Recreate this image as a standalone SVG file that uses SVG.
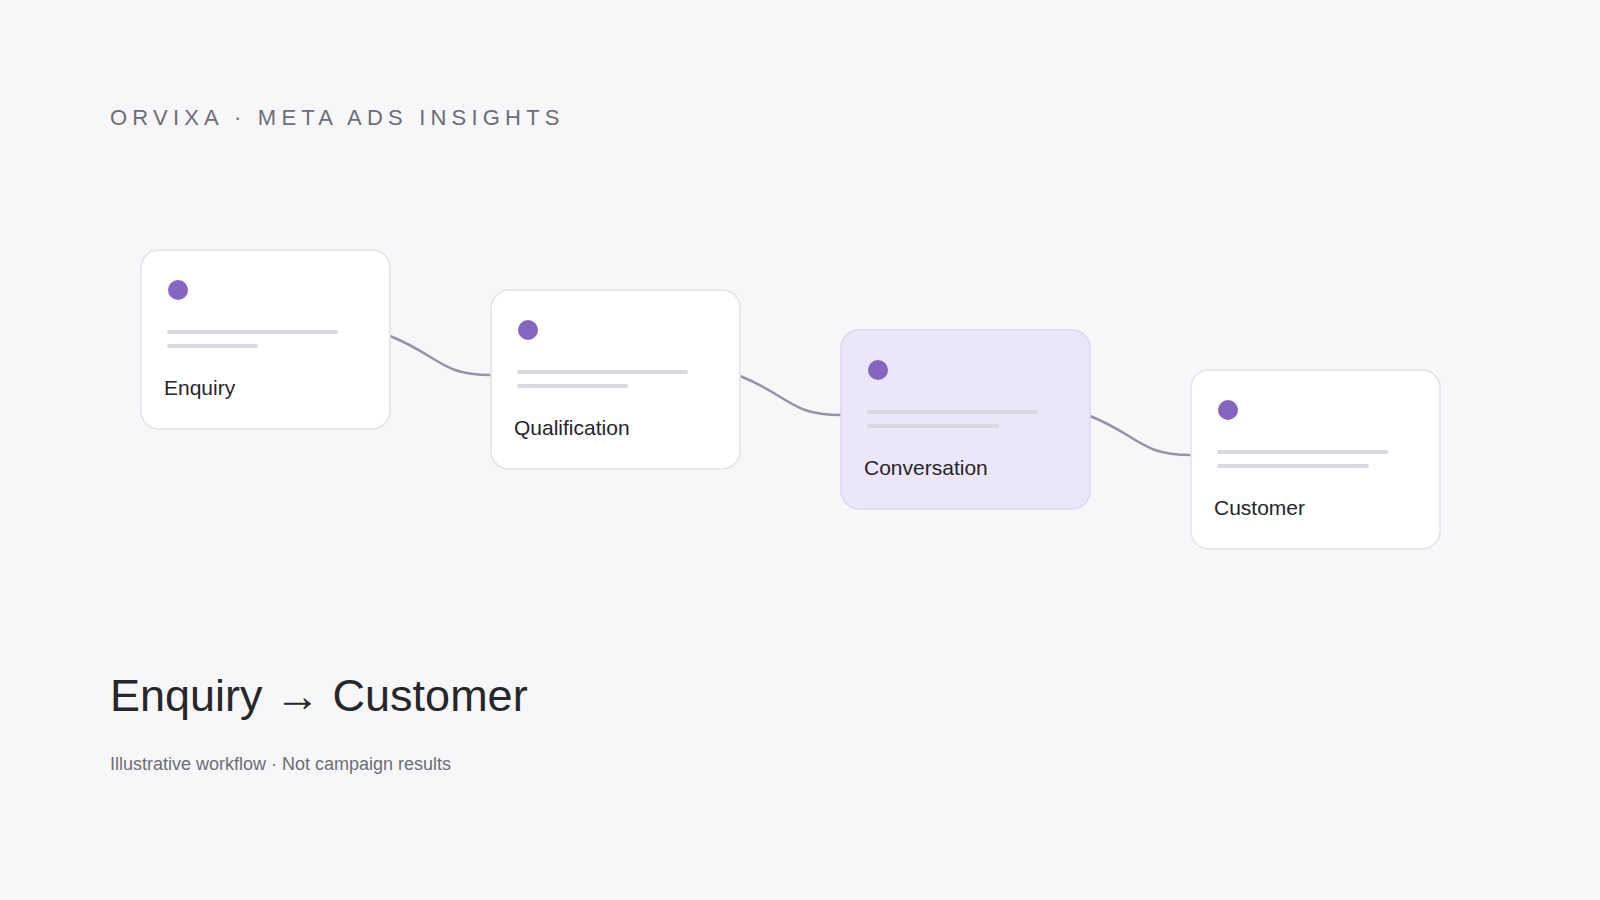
<svg xmlns="http://www.w3.org/2000/svg" width="1600" height="900" viewBox="0 0 1600 900">
<style>
.box{fill:#fff;stroke:#e3e2e9;stroke-width:1.5}
.hl{fill:#ece7f8;stroke:#ddd6f0}
.dot{fill:#8565c2}
.ln{stroke:#d9d7e1;stroke-width:4;stroke-linecap:round}
.lbl{font-family:"Liberation Sans",Arial,sans-serif;font-size:21px;fill:#26262b}
.con{fill:none;stroke:#9a91a9;stroke-width:2.5}
</style>
<rect width="1600" height="900" fill="#f7f7f9"/>
<text x="110" y="125" font-family="Liberation Sans,Arial,sans-serif" font-size="22" letter-spacing="5.2" fill="#6d6c78">ORVIXA · META ADS INSIGHTS</text>
<g id="connectors">
<path class="con" d="M390 336 C440 356 440 375 491 375"/>
<path class="con" d="M740 376 C790 396 790 415 841 415"/>
<path class="con" d="M1090 416 C1140 436 1140 455 1191 455"/>
</g>
<g id="n1"><rect class="box" x="141" y="250" width="249" height="179" rx="18"/><circle class="dot" cx="178" cy="290" r="10"/><line class="ln" x1="169" y1="332" x2="336" y2="332"/><line class="ln" x1="169" y1="346" x2="256" y2="346"/><text class="lbl" x="164" y="395">Enquiry</text></g>
<g id="n2"><rect class="box" x="491" y="290" width="249" height="179" rx="18"/><circle class="dot" cx="528" cy="330" r="10"/><line class="ln" x1="519" y1="372" x2="686" y2="372"/><line class="ln" x1="519" y1="386" x2="626" y2="386"/><text class="lbl" x="514" y="435">Qualification</text></g>
<g id="n3"><rect class="box hl" x="841" y="330" width="249" height="179" rx="18"/><circle class="dot" cx="878" cy="370" r="10"/><line class="ln" x1="869" y1="412" x2="1036" y2="412"/><line class="ln" x1="869" y1="426" x2="997" y2="426"/><text class="lbl" x="864" y="475">Conversation</text></g>
<g id="n4"><rect class="box" x="1191" y="370" width="249" height="179" rx="18"/><circle class="dot" cx="1228" cy="410" r="10"/><line class="ln" x1="1219" y1="452" x2="1386" y2="452"/><line class="ln" x1="1219" y1="466" x2="1367" y2="466"/><text class="lbl" x="1214" y="515">Customer</text></g>
<text x="110" y="711" font-family="Liberation Sans,Arial,sans-serif" font-size="45" fill="#26262b">Enquiry → Customer</text>
<text x="110" y="770" font-family="Liberation Sans,Arial,sans-serif" font-size="18" fill="#6d6c78">Illustrative workflow · Not campaign results</text>
</svg>
